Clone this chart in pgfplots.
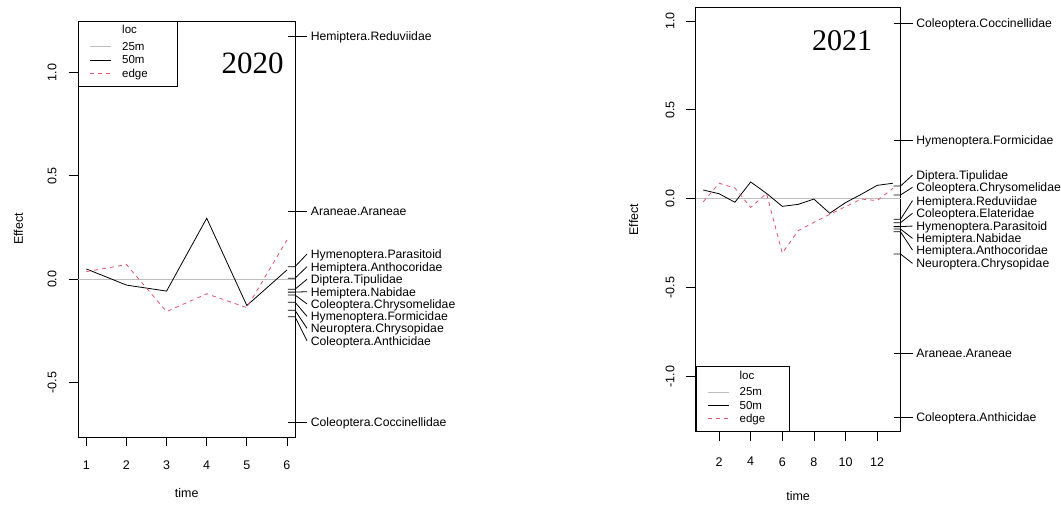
\documentclass[border=0pt]{standalone}
\usepackage{pgfplots}
\pgfplotsset{compat=1.18}
\usepackage{fontspec}
\setmainfont{Liberation Sans}
\newfontfamily\yearfont{Liberation Serif}
\definecolor{rgray}{HTML}{BEBEBE}
\definecolor{rpink}{HTML}{DF536B}
\newcommand\fs[1]{\fontsize{#1}{#1}\selectfont}
% margin label: x of right edge, tick value, label height, name
\newcommand\ml[4]{%
  \draw[line width=0.8pt] ([xshift=-7pt]axis cs:#1,#2) -- (axis cs:#1,#2)
    -- ([xshift=12pt]axis cs:#1,#3)
    node[anchor=base west, inner sep=0pt, xshift=3.5pt, yshift=-4.4pt, font=\fs{12.2}] {#4};}

\pgfplotsset{
  rstyle/.style={
    scale only axis, clip=false,
    axis line style={line width=0.8pt},
    every tick/.style={black, line width=0.8pt},
    tick align=outside, major tick length=9.5pt,
    ytick pos=left, xtick pos=bottom,
    /pgf/number format/assume math mode=true,
    tick label style={font=\fs{12.5}},
    label style={font=\fs{12.5}},
    ylabel={Effect}, xlabel={time},
    legend cell align=left,
    legend style={draw=black, line width=0.8pt, fill=white,
      inner xsep=11pt, inner ysep=4.6pt,
      nodes={inner sep=0pt, text height=8pt, text depth=4.1pt, font=\fs{11.5}},
      row sep=1.2pt, column sep=10.7pt},
    legend image code/.code={\draw[##1] (0pt,2pt) -- (21pt,2pt);},
  },
  p25/.style={rgray, line width=0.8pt},
  p50/.style={black, line width=0.8pt},
  pedge/.style={rpink, line width=0.8pt, dash pattern=on 4pt off 4pt},
}

\begin{document}
\begin{tikzpicture}
\useasboundingbox (0,0) rectangle (1061pt,506pt);

% ---------------- 2020 ----------------
\begin{axis}[rstyle,
  at={(78.3pt,69pt)}, anchor=south west,
  width=216.7pt, height=416pt,
  xmin=0.8, xmax=6.2, ymin=-0.762, ymax=1.248,
  xtick={1,2,3,4,5,6}, xticklabels={1,2,3,4,5,6},
  ytick={-0.5,0,0.5,1}, yticklabels={-0.5,0.0,0.5,1.0},
  yticklabel style={rotate=90, anchor=center, yshift=16.8pt},
  xticklabel style={anchor=center, yshift=-18.5pt},
  ylabel style={at={([xshift=-60pt]axis description cs:0,0.5)}, anchor=center},
  xlabel style={at={([yshift=-56pt]axis description cs:0.5,0)}, anchor=center},
  legend style={at={(0,1)}, anchor=north west},
]
\addlegendimage{empty legend}\addlegendentry[text depth=7.5pt]{loc}
\addplot[p25] coordinates {(0.8,0) (6.2,0)};
\addlegendentry{\makebox[44pt][l]{25m}}
\addplot[p50] coordinates {(1,0.050) (2,-0.028) (3,-0.057) (4,0.295) (5,-0.127) (6,0.045)};
\addlegendentry{\makebox[44pt][l]{50m}}
\addplot[pedge] coordinates {(1,0.037) (2,0.071) (3,-0.156) (4,-0.070) (5,-0.137) (6,0.190)};
\addlegendentry{\makebox[44pt][l]{edge}}

\node[anchor=base east, inner sep=0pt, font=\yearfont\fs{31}] at (axis description cs:0.949,0.8726) {2020};

\ml{6.2}{1.175}{1.175}{Hemiptera.Reduviidae}
\ml{6.2}{0.328}{0.328}{Araneae.Araneae}
\ml{6.2}{0.061}{0.122}{Hymenoptera.Parasitoid}
\ml{6.2}{0.005}{0.061}{Hemiptera.Anthocoridae}
\ml{6.2}{-0.048}{0.000}{Diptera.Tipulidae}
\ml{6.2}{-0.062}{-0.060}{Hemiptera.Nabidae}
\ml{6.2}{-0.076}{-0.119}{Coleoptera.Chrysomelidae}
\ml{6.2}{-0.111}{-0.179}{Hymenoptera.Formicidae}
\ml{6.2}{-0.150}{-0.237}{Neuroptera.Chrysopidae}
\ml{6.2}{-0.181}{-0.297}{Coleoptera.Anthicidae}
\ml{6.2}{-0.691}{-0.691}{Coleoptera.Coccinellidae}
\end{axis}

% ---------------- 2021 ----------------
\begin{axis}[rstyle,
  at={(695.7pt,74.3pt)}, anchor=south west,
  width=204.8pt, height=424.4pt,
  xmin=0.52, xmax=13.48, ymin=-1.311, ymax=1.077,
  xtick={2,4,6,8,10,12}, xticklabels={2,4,6,8,10,12},
  ytick={-1,-0.5,0,0.5,1}, yticklabels={-1.0,-0.5,0.0,0.5,1.0},
  yticklabel style={rotate=90, anchor=center, yshift=16.2pt},
  xticklabel style={anchor=center, yshift=-20.5pt},
  ylabel style={at={([xshift=-62pt]axis description cs:0,0.5)}, anchor=center},
  xlabel style={at={([yshift=-64pt]axis description cs:0.5,0)}, anchor=center},
  legend style={at={(0,0)}, anchor=south west},
]
\addlegendimage{empty legend}\addlegendentry[text depth=7.5pt]{loc}
\addplot[p25] coordinates {(0.52,0) (13.48,0)};
\addlegendentry{\makebox[39pt][l]{25m}}
\addplot[p50] coordinates {(1,0.049) (2,0.028) (3,-0.020) (4,0.094) (5,0.030) (6,-0.043) (7,-0.032) (8,-0.002) (9,-0.082) (10,-0.022) (11,0.025) (12,0.075) (13,0.087)};
\addlegendentry{\makebox[39pt][l]{50m}}
\addplot[pedge] coordinates {(1,-0.017) (2,0.087) (3,0.060) (4,-0.049) (5,0.030) (6,-0.307) (7,-0.180) (8,-0.133) (9,-0.088) (10,-0.045) (11,-0.002) (12,-0.011) (13,0.058)};
\addlegendentry{\makebox[39pt][l]{edge}}

\node[anchor=base east, inner sep=0pt, font=\yearfont\fs{30}] at (axis description cs:0.862,0.899) {2021};

\ml{13.48}{0.987}{0.987}{Coleoptera.Coccinellidae}
\ml{13.48}{0.330}{0.330}{Hymenoptera.Formicidae}
\ml{13.48}{0.071}{0.133}{Diptera.Tipulidae}
\ml{13.48}{0.021}{0.064}{Coleoptera.Chrysomelidae}
\ml{13.48}{-0.116}{-0.011}{Hemiptera.Reduviidae}
\ml{13.48}{-0.135}{-0.082}{Coleoptera.Elateridae}
\ml{13.48}{-0.157}{-0.154}{Hymenoptera.Parasitoid}
\ml{13.48}{-0.171}{-0.223}{Hemiptera.Nabidae}
\ml{13.48}{-0.186}{-0.289}{Hemiptera.Anthocoridae}
\ml{13.48}{-0.311}{-0.364}{Neuroptera.Chrysopidae}
\ml{13.48}{-0.870}{-0.870}{Araneae.Araneae}
\ml{13.48}{-1.230}{-1.230}{Coleoptera.Anthicidae}
\end{axis}
\end{tikzpicture}
\end{document}
